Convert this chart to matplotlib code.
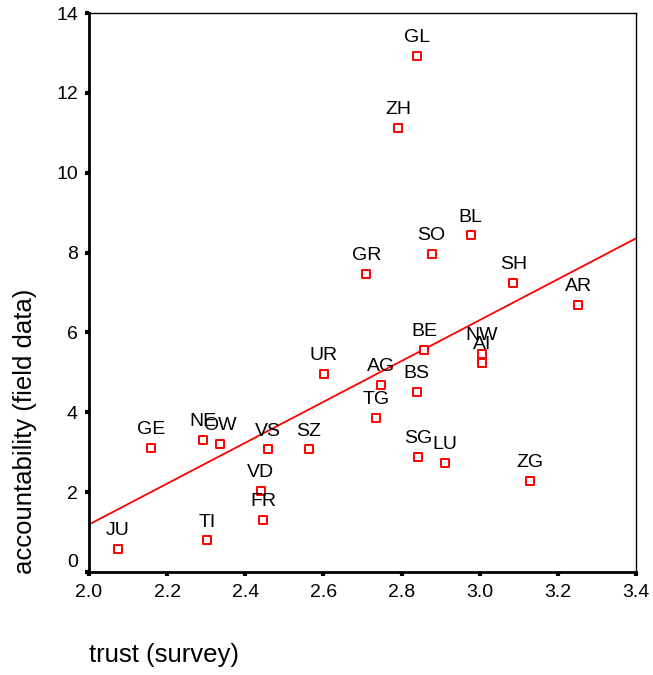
import numpy as np
import matplotlib.pyplot as plt
from matplotlib.transforms import ScaledTranslation

plt.rcParams['font.family'] = ['Liberation Sans', 'DejaVu Sans']

# Kantone: Vertrauen (Umfrage) vs. Rechenschaft (Felddaten)
cantons = ['GL', 'ZH', 'BL', 'SO', 'GR', 'SH', 'AR', 'BE', 'NW', 'AI',
           'UR', 'AG', 'BS', 'TG', 'SG', 'LU', 'ZG', 'GE', 'NE', 'OW',
           'VS', 'SZ', 'VD', 'FR', 'TI', 'JU']
trust = [2.839, 2.791, 2.977, 2.877, 2.710, 3.086, 3.252, 2.858, 3.005, 3.005,
         2.601, 2.748, 2.839, 2.734, 2.843, 2.910, 3.129, 2.159, 2.291, 2.334,
         2.458, 2.563, 2.439, 2.446, 2.302, 2.073]
accountability = [12.92, 11.12, 8.43, 7.96, 7.46, 7.23, 6.69, 5.56, 5.47, 5.24,
                  4.96, 4.69, 4.51, 3.85, 2.88, 2.74, 2.28, 3.11, 3.30, 3.21,
                  3.07, 3.07, 2.04, 1.31, 0.79, 0.57]

x_ticks = [2.0, 2.2, 2.4, 2.6, 2.8, 3.0, 3.2, 3.4]
y_ticks = [0, 2, 4, 6, 8, 10, 12, 14]

fig = plt.figure(figsize=(6.53, 6.75), dpi=100)
ax = fig.add_axes([0.1363, 0.1526, 0.8377, 0.8281])

# Regressionsgerade
slope, intercept = np.polyfit(trust, accountability, 1)
xs = np.array([2.0, 3.4])
ax.plot(xs, intercept + slope * xs, color='red', lw=1.3, zorder=2)

ax.scatter(trust, accountability, marker='s', s=36, facecolors='white',
           edgecolors='red', linewidths=1.4, zorder=3)
for name, x, y in zip(cantons, trust, accountability):
    ax.annotate(name, (x, y), xytext=(0, 10), textcoords='offset points',
                ha='center', va='baseline', fontsize=14, zorder=4)

ax.set_xlim(2.0, 3.4)
ax.set_ylim(0, 14)
ax.set_xticks(x_ticks)
ax.set_xticklabels([f'{t:.1f}' for t in x_ticks])
ax.set_yticks(y_ticks)
ax.tick_params(labelsize=14, length=3, width=3, direction='out')
ax.tick_params(axis='x', pad=6)
ax.tick_params(axis='y', pad=5)
for side in ['left', 'bottom']:
    ax.spines[side].set_linewidth(2)
for side in ['top', 'right']:
    ax.spines[side].set_linewidth(1)

# die "0" sitzt im Original etwas höher
zero_lbl = ax.get_yticklabels()[0]
zero_lbl.set_transform(zero_lbl.get_transform() + ScaledTranslation(0, 8 / 72, fig.dpi_scale_trans))

ax.set_xlabel('trust (survey)', fontsize=18.5, va='center')
ax.set_ylabel('accountability (field data)', fontsize=18.5, va='center')
ax.xaxis.set_label_coords(0.137, -0.148)
ax.yaxis.set_label_coords(-0.117, 0.252)

fig.savefig('out.png', dpi=100)
